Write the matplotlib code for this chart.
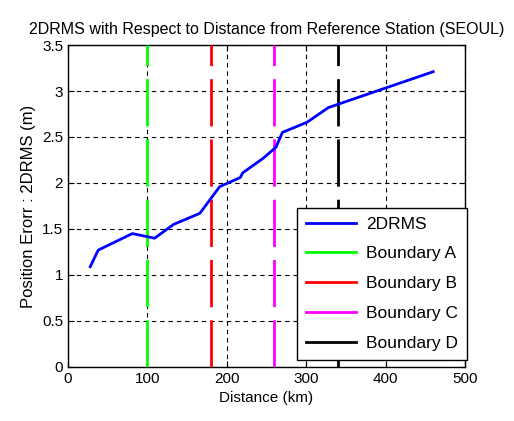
import numpy as np
import matplotlib
matplotlib.use('Agg')
import matplotlib.pyplot as plt

plt.rcParams['font.family'] = ['Liberation Sans', 'DejaVu Sans']

# 2DRMS vs distance
dist = [28, 38, 81, 109, 133, 166, 191, 217, 220, 246, 262, 270, 301, 328, 460]
drms = [1.09, 1.27, 1.45, 1.40, 1.55, 1.67, 1.96, 2.06, 2.11, 2.27, 2.39, 2.55, 2.66, 2.82, 3.21]

bounds = [100, 180, 260, 340]
bound_names = ['Boundary A', 'Boundary B', 'Boundary C', 'Boundary D']
bound_colors = ['#00ff00', '#ff0000', '#ff00ff', '#000000']

fig = plt.figure(figsize=(5.14, 4.21), dpi=100)
ax = fig.add_axes([0.1323, 0.1283, 0.7724, 0.7648])

ax.plot(dist, drms, color='#0000ff', lw=2, label='2DRMS', zorder=5)
for b, name, c in zip(bounds, bound_names, bound_colors):
    ax.plot([b, b], [0, 3.5], color=c, lw=2, dashes=(17, 4.7), label=name, zorder=4)

ax.set_xlim(0, 500)
ax.set_ylim(0, 3.5)
ax.set_xticks(np.arange(0, 501, 100))
ax.set_yticks(np.arange(0, 3.51, 0.5))
ax.set_yticklabels(['0', '0.5', '1', '1.5', '2', '2.5', '3', '3.5'])
ax.grid(True, color='black', linestyle=(0, (4, 3.5)), lw=0.8)
ax.tick_params(direction='in', top=True, right=True, labelsize=11, length=4)
for s in ax.spines.values():
    s.set_linewidth(1)

ax.set_title('2DRMS with Respect to Distance from Reference Station (SEOUL)', fontsize=11.5, pad=8)
ax.set_xlabel('Distance (km)', fontsize=11)
ax.set_ylabel('Position Erorr : 2DRMS (m)', fontsize=12)

leg = ax.legend(loc='lower right', fontsize=12.5, handlelength=2.9, fancybox=False,
                framealpha=1, edgecolor='black', borderpad=0.5, labelspacing=0.85,
                handletextpad=0.6, borderaxespad=0, bbox_to_anchor=(1.005, 0.022))
leg.get_frame().set_linewidth(1)
for h in leg.get_lines():
    h.set_linestyle('-')

fig.savefig('out.png', dpi=100)
